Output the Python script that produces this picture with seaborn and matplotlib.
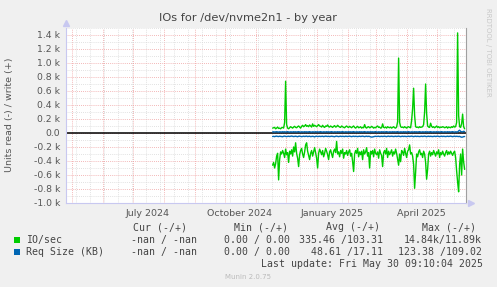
import numpy as np
import pandas as pd
import matplotlib
matplotlib.use("Agg")
import matplotlib.pyplot as plt
import matplotlib.dates as mdates
import matplotlib.transforms as mtrans
from matplotlib.patches import Rectangle
import seaborn as sns
from datetime import datetime

title = "IOs for /dev/nvme2n1 - by year"
ylabel = "Units read (-) / write (+)"
start_day = "2024-11-18"

# IO/sec reads (drawn negative)
io_read = [
    460, 420, 500, 440, 330, 290, 670, 380, 270, 300,
    250, 290, 350, 230, 310, 280, 420, 260, 300, 240,
    330, 200, 270, 140, 290, 360, 480, 310, 250, 220,
    300, 350, 270, 170, 140, 260, 320, 380, 290, 250,
    330, 270, 210, 280, 360, 500, 290, 230, 270, 310,
    250, 340, 290, 220, 260, 310, 380, 270, 240, 300,
    350, 260, 230, 280, 120, 300, 270, 340, 250, 290,
    230, 360, 280, 300, 250, 320, 270, 240, 330, 290,
    410, 550, 300, 250, 290, 220, 340, 270, 310, 260,
    380, 240, 300, 270, 210, 330, 280, 500, 260, 300,
    250, 340, 230, 290, 310, 270, 360, 240, 290, 320,
    480, 280, 250, 300, 220, 350, 260, 310, 280, 240,
    330, 270, 300, 230, 290, 380, 460, 300, 410, 250,
    270, 320, 220, 290, 350, 260, 240, 170, 300, 280,
    330, 450, 790, 560, 300, 340, 270, 240, 310, 290,
    350, 260, 300, 420, 660, 520, 300, 260, 330, 280,
    310, 250, 290, 330, 270, 300, 240, 350, 280, 310,
    260, 300, 330, 280, 250, 310, 270, 300, 260, 290,
    320, 280, 260, 350, 540, 700, 840, 450, 300, 600,
    230, 410, 520,
]
# IO/sec writes (drawn positive)
io_write = [
    70, 75, 80, 60, 70, 85, 65, 70, 60, 75,
    80, 70, 150, 740, 120, 70, 60, 75, 90, 80,
    70, 85, 95, 80, 75, 90, 100, 85, 70, 95,
    110, 90, 100, 120, 95, 105, 90, 115, 100, 85,
    130, 95, 110, 100, 90, 105, 120, 100, 95, 85,
    110, 90, 80, 100, 95, 115, 90, 85, 100, 90,
    80, 95, 105, 85, 90, 110, 95, 85, 80, 100,
    90, 80, 75, 90, 100, 85, 80, 95, 85, 75,
    90, 100, 80, 70, 85, 95, 75, 80, 90, 70,
    80, 75, 120, 80, 70, 85, 90, 75, 80, 95,
    85, 70, 80, 75, 90, 100, 80, 85, 70, 75,
    130, 80, 75, 85, 70, 90, 80, 75, 85, 70,
    80, 90, 75, 70, 85, 160, 1070, 150, 90, 80,
    85, 75, 90, 80, 70, 85, 90, 80, 75, 180,
    350, 640, 250, 90, 80, 85, 75, 90, 80, 85,
    90, 120, 300, 700, 280, 100, 85, 80, 140, 95,
    80, 90, 75, 85, 100, 80, 90, 75, 85, 80,
    90, 85, 75, 80, 90, 70, 85, 80, 75, 90,
    80, 100, 85, 90, 150, 1430, 250, 90, 80, 130,
    270, 90, 60,
]
# Request size (KB) reads (drawn negative)
rs_read = [
    50, 48, 52, 47, 45, 49, 51, 46, 48, 50,
    53, 47, 45, 49, 52, 48, 46, 50, 47, 44,
    48, 51, 49, 46, 50, 53, 47, 45, 48, 52,
    49, 46, 50, 47, 45, 51, 48, 46, 52, 49,
    47, 50, 55, 48, 46, 51, 49, 47, 50, 48,
    46, 52, 49, 45, 48, 50, 47, 51, 49, 46,
    48, 50, 53, 47, 45, 49, 52, 48, 46, 50,
    47, 49, 51, 46, 48, 50, 47, 45, 49, 52,
    48, 46, 50, 47, 49, 51, 48, 46, 50, 47,
    45, 49, 52, 48, 46, 50, 47, 49, 55, 58,
    56, 52, 49, 47, 50, 48, 46, 51, 49, 47,
    50, 48, 46, 49, 52, 47, 45, 50, 48, 46,
    49, 51, 48, 46, 50, 47, 45, 49, 52, 48,
    46, 50, 47, 49, 51, 48, 46, 50, 47, 45,
    49, 52, 48, 46, 50, 47, 49, 51, 48, 46,
    50, 47, 45, 49, 52, 48, 46, 50, 47, 49,
    51, 48, 46, 50, 47, 45, 49, 52, 48, 46,
    50, 47, 49, 51, 48, 46, 50, 47, 45, 49,
    52, 48, 46, 50, 47, 49, 51, 48, 55, 60,
    58, 52, 50,
]
# Request size (KB) writes (drawn positive)
rs_write = [
    15, 17, 14, 16, 18, 15, 13, 17, 16, 14,
    18, 15, 17, 14, 16, 19, 15, 13, 17, 16,
    14, 18, 15, 17, 14, 16, 19, 15, 13, 17,
    16, 14, 18, 15, 17, 14, 16, 19, 15, 13,
    17, 16, 14, 18, 15, 17, 14, 16, 19, 15,
    13, 17, 16, 14, 18, 15, 17, 14, 16, 19,
    15, 13, 17, 16, 14, 18, 15, 17, 14, 16,
    19, 15, 13, 17, 16, 14, 18, 15, 17, 14,
    16, 19, 15, 13, 17, 16, 14, 18, 15, 17,
    14, 16, 19, 15, 13, 17, 16, 14, 18, 15,
    17, 14, 16, 19, 15, 13, 17, 16, 14, 18,
    15, 17, 14, 16, 19, 15, 13, 17, 16, 14,
    18, 15, 17, 14, 16, 19, 15, 13, 17, 16,
    14, 18, 15, 17, 14, 16, 19, 15, 13, 17,
    16, 14, 18, 15, 17, 14, 16, 19, 15, 13,
    17, 16, 14, 18, 15, 17, 14, 16, 19, 15,
    13, 17, 16, 14, 18, 15, 17, 14, 16, 19,
    15, 13, 17, 16, 14, 18, 15, 17, 14, 16,
    19, 15, 13, 17, 16, 14, 30, 40, 22, 18,
    16, 25, 20,
]

yticks = [-1000, -800, -600, -400, -200, 0, 200, 400, 600, 800, 1000, 1200, 1400]
ytick_labels = ["-1.0 k", "-0.8 k", "-0.6 k", "-0.4 k", "-0.2 k", "0.0",
                "0.2 k", "0.4 k", "0.6 k", "0.8 k", "1.0 k", "1.2 k", "1.4 k"]
month_labels = ["July 2024", "October 2024", "January 2025", "April 2025"]
month_label_dates = ["2024-07-16", "2024-10-16", "2025-01-16", "2025-04-16"]

legend_names = ["IO/sec", "Req Size (KB)"]
legend_colors = ["#00CC00", "#0066B3"]
col_headers = ["Cur (-/+)", "Min (-/+)", "Avg (-/+)", "Max (-/+)"]
legend_rows = [
    ["-nan / -nan", "0.00 / 0.00", "335.46 /103.31", "14.84k/11.89k"],
    ["-nan / -nan", "0.00 / 0.00", "48.61 /17.11", "123.38 /109.02"],
]
last_update = "Last update: Fri May 30 09:10:04 2025"
footer = "Munin 2.0.75"
watermark = "RRDTOOL / TOBI OETIKER"

# ---------------------------------------------------------------------------
W, H = 497, 287
sns.set_style("white")
plt.rcParams["font.family"] = ["DejaVu Sans"]

fig = plt.figure(figsize=(W / 100, H / 100), dpi=100, facecolor="#F0F0F0")
ax = fig.add_axes([66 / W, 1 - 203 / H, 400 / W, 175 / H])
ax.set_facecolor("white")

dates = pd.date_range(start_day, periods=len(io_read), freq="D")
df = pd.DataFrame({
    "date": dates,
    "io_read": -np.array(io_read, float),
    "io_write": np.array(io_write, float),
    "rs_read": -np.array(rs_read, float),
    "rs_write": np.array(rs_write, float),
})

t0 = datetime(2024, 4, 25, 9, 10)
t1 = datetime(2025, 5, 30, 9, 10)

# grid
minor_x = pd.date_range("2024-05-05", t1, freq="14D")
ax.set_xlim(t0, t1)
ax.set_ylim(-1000, 1500)
ax.xaxis.set_major_locator(mdates.MonthLocator())
ax.xaxis.set_minor_locator(matplotlib.ticker.FixedLocator(mdates.date2num(minor_x)))
ax.set_yticks(yticks)
ax.set_yticklabels(ytick_labels)
ax.yaxis.set_minor_locator(matplotlib.ticker.MultipleLocator(100))
ax.xaxis.set_major_formatter(matplotlib.ticker.NullFormatter())

dot = (0, (1, 1.5))
ax.grid(True, which="minor", color="#d8d8d8", lw=0.6, ls=dot)
ax.grid(True, which="major", color="#f0a0a0", lw=0.6, ls=dot)
ax.set_axisbelow(True)

ax.tick_params(axis="both", which="both", length=2, width=0.6)
ax.tick_params(axis="y", which="major", colors="#f0a0a0", labelcolor="#555555",
               labelsize=6.7, pad=2)
ax.tick_params(axis="y", which="minor", colors="#d0d0d0")
ax.tick_params(axis="x", which="major", colors="#f0a0a0")
ax.tick_params(axis="x", which="minor", colors="#d0d0d0")

ax.axhline(0, color="black", lw=1.1, zorder=2)

sns.lineplot(data=df, x="date", y="io_write", ax=ax, color=legend_colors[0], lw=1, zorder=3)
sns.lineplot(data=df, x="date", y="io_read", ax=ax, color=legend_colors[0], lw=1, zorder=3)
sns.lineplot(data=df, x="date", y="rs_write", ax=ax, color=legend_colors[1], lw=1, zorder=4)
sns.lineplot(data=df, x="date", y="rs_read", ax=ax, color=legend_colors[1], lw=1, zorder=4)
ax.set_xlabel("")
ax.set_ylabel("")

for s in ["top"]:
    ax.spines[s].set_visible(False)
ax.spines["right"].set_color("#a0a0a0")
ax.spines["right"].set_linewidth(0.8)
for s in ["left", "bottom"]:
    ax.spines[s].set_color("#c8c8f0")
    ax.spines[s].set_linewidth(0.8)

# axis arrows
ax.plot([0], [1.03], marker="^", ms=4, color="#c8c8f0", transform=ax.transAxes, clip_on=False)
ax.plot([1.012], [0], marker=">", ms=4, color="#c8c8f0", transform=ax.transAxes, clip_on=False)

# month labels
trans = mtrans.blended_transform_factory(ax.transData, ax.transAxes)
for lab, d in zip(month_labels, month_label_dates):
    ax.text(mdates.date2num(pd.Timestamp(d)), -10 / 175, lab, transform=trans,
            ha="center", va="center", fontsize=6.8, color="#555555", clip_on=False)

def px(x, y):
    return x / W, 1 - y / H

fig.text(*px(248, 18), title, ha="center", va="center", fontsize=8.2, color="#444444")
fig.text(*px(10, 115), ylabel, ha="center", va="center", rotation=90,
         fontsize=6.8, color="#555555")
fig.text(*px(488, 52), watermark, ha="center", va="center", rotation=270,
         fontsize=5.0, color="#c8c8c8")

mono = dict(family="DejaVu Sans Mono", fontsize=7.1, color="#444444", va="center")
header_right = [187, 288, 380, 476]
cell_right = [197, 290, 383, 482]
for h, xr in zip(col_headers, header_right):
    fig.text(*px(xr, 227), h, ha="right", **mono)
for i, (name, col, row) in enumerate(zip(legend_names, legend_colors, legend_rows)):
    y = 240 + i * 12
    fig.add_artist(Rectangle(px(14, y + 3), 6 / W, 6 / H, transform=fig.transFigure,
                             facecolor=col, edgecolor="none"))
    fig.text(*px(26, y), name, ha="left", **mono)
    for val, xr in zip(row, cell_right):
        fig.text(*px(xr, y), val, ha="right", **mono)
fig.text(*px(483, 264), last_update, ha="right", **mono)
fig.text(*px(248, 277), footer, ha="center", va="center", fontsize=5.0, color="#bbbbbb")

fig.savefig("out.png", dpi=100, facecolor=fig.get_facecolor())
